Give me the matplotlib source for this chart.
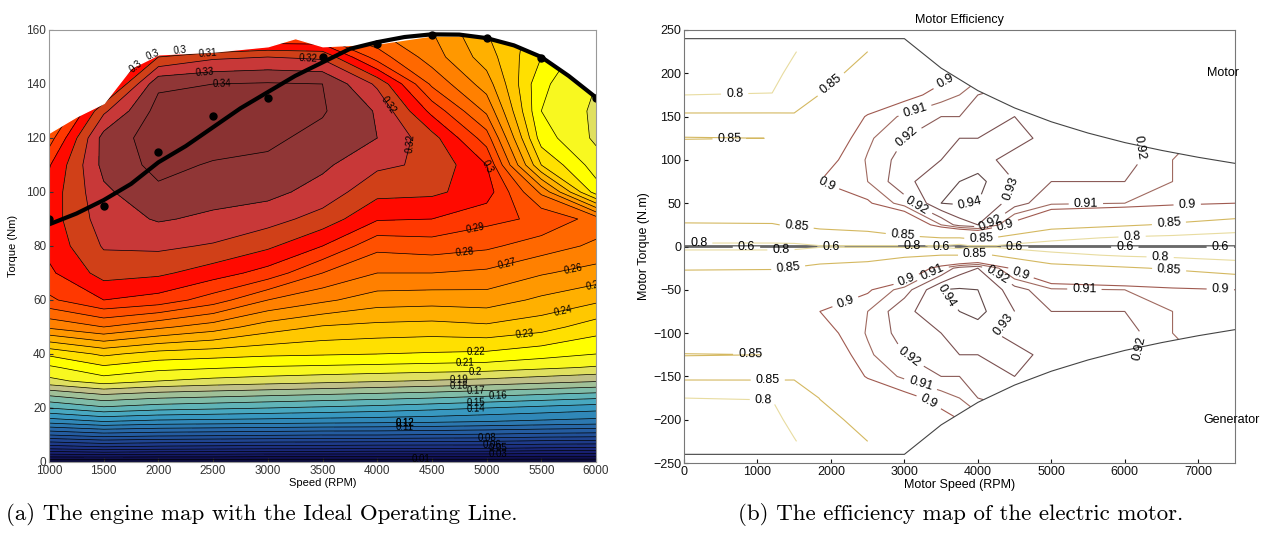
import numpy as np
import matplotlib
matplotlib.use("Agg")
import matplotlib.pyplot as plt
from matplotlib.colors import ListedColormap, BoundaryNorm
from matplotlib.patches import Polygon

plt.rcParams['font.family'] = ['Liberation Sans', 'DejaVu Sans']

# ---------------- engine map data ----------------
engine_speed = [1000, 1500, 2000, 2500, 3000, 3500, 4000, 4500, 5000, 5500, 6000]
engine_torque = [0, 2, 5, 10, 15, 20, 25, 30, 35, 40, 50, 60, 70, 80, 90, 100,
                 110, 120, 130, 140, 150, 160]
# one row per torque value, one column per speed
engine_eff = [
    [0, 0, 0, 0, 0, 0, 0, 0, 0, 0, 0],
    [.021, .022, .021, .021, .020, .020, .020, .020, .020, .019, .019],
    [.051, .055, .053, .052, .051, .051, .050, .050, .050, .048, .047],
    [.090, .095, .093, .092, .091, .090, .090, .089, .088, .086, .085],
    [.124, .130, .127, .126, .125, .124, .123, .122, .120, .118, .116],
    [.150, .158, .154, .152, .150, .148, .146, .143, .140, .137, .134],
    [.172, .180, .176, .174, .172, .170, .168, .166, .163, .160, .157],
    [.197, .205, .200, .197, .195, .193, .191, .189, .187, .184, .181],
    [.208, .218, .213, .211, .209, .208, .207, .206, .205, .202, .199],
    [.222, .232, .226, .224, .222, .221, .220, .219, .218, .214, .210],
    [.262, .270, .262, .255, .245, .239, .237, .236, .238, .234, .225],
    [.288, .300, .296, .285, .270, .262, .255, .254, .255, .248, .242],
    [.298, .314, .312, .305, .296, .280, .270, .270, .268, .261, .256],
    [.303, .321, .322, .319, .312, .300, .283, .285, .282, .275, .268],
    [.305, .325, .331, .328, .324, .316, .301, .300, .293, .288, .276],
    [.304, .328, .338, .334, .333, .326, .313, .312, .305, .268, .215],
    [.299, .333, .343, .339, .338, .332, .322, .318, .300, .230, .205],
    [.285, .334, .345, .345, .342, .337, .330, .314, .285, .215, .198],
    [.270, .318, .344, .346, .347, .341, .329, .297, .268, .210, .198],
    [.260, .290, .338, .340, .341, .340, .318, .278, .255, .212, .200],
    [.250, .260, .310, .318, .320, .318, .285, .265, .245, .220, .200],
    [.240, .230, .250, .270, .280, .280, .270, .260, .240, .225, .200],
]

# full-load (maximum torque) curve
wot_speed = [1000, 1250, 1500, 1750, 2000, 2500, 3000, 3250, 3500, 4000, 4500, 5000, 5500, 6000]
wot_torque = [122, 128, 133, 146, 151, 152, 154, 157, 154, 155, 158, 158, 151, 135]

# ideal operating line
iol_speed = [1000, 1250, 1500, 1750, 2000, 2250, 2500, 2750, 3000, 3250, 3500, 3750,
             4000, 4250, 4500, 4750, 5000, 5250, 5500, 5750, 6000]
iol_torque = [88, 92, 97, 103, 111, 117, 124, 131, 137, 143, 148, 153,
              155.5, 157.4, 158.4, 158.3, 157, 154.3, 150, 143, 135]
pt_speed = [1000, 1500, 2000, 2500, 3000, 3500, 4000, 4500, 5000, 5500, 6000]
pt_torque = [90, 95, 115, 128, 135, 150, 155, 158, 157, 149.5, 135]

engine_levels = np.round(np.arange(0, 0.355, 0.01), 2)
engine_colors = ['#0c0c3c', '#101050', '#141864', '#182070', '#1a2878', '#1c3080',
                 '#1e3a88', '#204590', '#225098', '#245ca0', '#2868a8', '#2c78b0',
                 '#3088b8', '#3898c0', '#48a8c0', '#60b4b8', '#80bca8', '#a0c098',
                 '#c0c088', '#e0e060', '#f8f820', '#ffff00', '#ffe000', '#ffc800',
                 '#ffb000', '#ff9800', '#ff8000', '#ff6800', '#ff5000', '#ff3800',
                 '#ff0a00', '#d04018', '#c83838', '#903636', '#8a3232']

engine_label_pos = [(2430, 142), (2580, 138), (3370, 149), (4130, 133), (4400, 117),
                    (4960, 109), (4900, 86), (4800, 77), (5200, 71), (5800, 70),
                    (5990, 66), (5700, 56), (5350, 46), (4900, 41), (4800, 37),
                    (4900, 33), (4750, 29.5), (4750, 28), (4900, 26.5), (5100, 24.5),
                    (4900, 22), (4900, 20), (4250, 15), (4250, 14), (4250, 13),
                    (4400, 1), (5000, 9.5), (5050, 7), (5100, 5), (5100, 3),
                    (1800, 146), (1950, 151), (2200, 152), (2450, 152.5)]

# ---------------- motor map data ----------------
motor_speed = [0, 1200, 1500, 1850, 2500, 3000, 3500, 3750, 4000, 4500, 5000, 6000, 6650, 7500]
motor_torque_up = [0, 1, 10, 25, 50, 75, 100, 125, 150, 175, 200, 225]
# one row per torque value (motor side), one column per speed
motor_eff_up = [
    [0, 0, 0, 0, 0, 0, 0, 0, 0, 0, 0, 0, 0, 0],
    [.79, .79, .79, .80, .805, .80, .80, .79, .81, .79, .785, .78, .78, .775],
    [.82, .82, .825, .835, .84, .845, .85, .85, .86, .835, .81, .795, .79, .78],
    [.849, .849, .852, .857, .86, .875, .91, .925, .93, .895, .87, .855, .845, .83],
    [.86, .865, .87, .885, .898, .915, .94, .941, .94, .925, .912, .91, .905, .90],
    [.865, .87, .878, .90, .91, .928, .935, .94, .943, .93, .92, .92, .91, .905],
    [.86, .865, .875, .893, .911, .925, .93, .935, .935, .925, .93, .925, .91, .905],
    [.8495, .85005, .87, .885, .908, .92, .93, .93, .93, .935, .925, .922, .915, .90],
    [.86, .86, .855, .87, .902, .912, .92, .92, .925, .93, .92, .92, .91, .90],
    [.80, .801, .825, .851, .88, .895, .905, .91, .92, .925, .915, .915, .905, .895],
    [.79, .79, .81, .835, .865, .88, .895, .90, .905, .915, .91, .91, .90, .89],
    [.78, .78, .798, .82, .85, .865, .88, .89, .89, .90, .90, .90, .895, .885],
]

env_speed = [0, 3000, 3500, 4000, 4500, 5000, 5500, 6000, 6500, 7000, 7500]
env_torque = [240, 240, 206, 180, 160, 144, 131, 120, 111, 103, 96]

motor_levels = [0.6, 0.8, 0.85, 0.9, 0.91, 0.92, 0.93, 0.94]
motor_colors = ['#404040', '#e8dca0', '#d4b860', '#a05a50', '#a06a60', '#8c5c58',
                '#7a5050', '#604848']

motor_label_pos = [(690, 175), (1990, 188), (620, 125), (3500, 200), (3160, 152),
                   (3050, 123), (3880, 63), (4400, 69), (3160, 46), (1880, 58),
                   (2990, 23), (4160, 29), (4380, 22), (5470, 50), (6850, 47),
                   (6600, 27), (5970, 112), (1530, 20), (200, 4), (3100, 4),
                   (6100, 9), (4050, 5), (850, 0), (2000, 0), (3500, 0), (4500, 0),
                   (6000, 0), (7300, 0), (1320, -5), (1420, -28), (3960, -7),
                   (2980, -30), (2140, -50), (3400, -33), (3540, -60), (4240, -36),
                   (4570, -35), (5450, -50), (6600, -31), (6480, -15), (7300, -50),
                   (4400, -95), (3060, -128), (3200, -165), (3230, -196),
                   (900, -125), (1140, -158), (1080, -180), (5970, -116)]

fig = plt.figure(figsize=(12.74, 5.43), dpi=100)

# ---------------- left: engine map ----------------
ax1 = fig.add_axes([49 / 1274, 81 / 543, 547 / 1274, 432 / 543])
S, T = np.meshgrid(engine_speed, engine_torque)
E = np.array(engine_eff)
cmap = ListedColormap(engine_colors)
norm = BoundaryNorm(engine_levels, cmap.N)
ax1.contourf(S, T, E, levels=engine_levels, cmap=cmap, norm=norm)
cs1 = ax1.contour(S, T, E, levels=engine_levels[1:], colors='k', linewidths=0.5)
ax1.clabel(cs1, fmt='%g', inline=False, fontsize=7, colors='k', manual=engine_label_pos)
ax1.fill_between(wot_speed, wot_torque, 170, color='white', zorder=3)
ax1.plot(iol_speed, iol_torque, color='k', lw=3, zorder=4)
ax1.plot(pt_speed, pt_torque, 'o', color='k', ms=5, zorder=5)
ax1.set_xlim(1000, 6000)
ax1.set_ylim(0, 160)
ax1.set_xticks(range(1000, 6001, 500))
ax1.set_yticks(range(0, 161, 20))
ax1.tick_params(direction='in', length=3, labelsize=8.5, colors='#333333', pad=2)
for sp in ax1.spines.values():
    sp.set_color('#999999')
    sp.set_zorder(6)
ax1.set_xlabel('Speed (RPM)', fontsize=8, labelpad=1)
ax1.set_ylabel('Torque (Nm)', fontsize=8, labelpad=6)

# ---------------- right: motor map ----------------
ax2 = fig.add_axes([684 / 1274, 80 / 543, 551 / 1274, 433 / 543])
Eu = np.array(motor_eff_up)
motor_torque = [-t for t in motor_torque_up[:0:-1]] + motor_torque_up
Em = np.vstack([Eu[:0:-1], Eu])
env_poly = Polygon(list(zip(env_speed, env_torque)) +
                   list(zip(env_speed[::-1], [-t for t in env_torque[::-1]])),
                   closed=True, facecolor='none', edgecolor='none', transform=ax2.transData)
ax2.add_patch(env_poly)
cs2 = ax2.contour(motor_speed, motor_torque, Em, levels=motor_levels,
                  colors=motor_colors, linewidths=0.8)
ax2.clabel(cs2, fmt='%g', inline=True, fontsize=9, colors='k', manual=motor_label_pos)
cs2.set_clip_path(env_poly)
ax2.plot(env_speed, env_torque, color='#444444', lw=0.8)
ax2.plot(env_speed, [-t for t in env_torque], color='#444444', lw=0.8)
ax2.set_xlim(0, 7500)
ax2.set_ylim(-250, 250)
ax2.set_xticks(range(0, 7001, 1000))
ax2.set_yticks(range(-250, 251, 50))
ax2.tick_params(direction='in', length=3, labelsize=9, colors='#111111', pad=2)
for sp in ax2.spines.values():
    sp.set_color('#777777')
ax2.set_title('Motor Efficiency', fontsize=9, pad=5)
ax2.set_xlabel('Motor Speed (RPM)', fontsize=9, labelpad=1)
ax2.set_ylabel('Motor Torque (N.m)', fontsize=9, labelpad=2)
ax2.text(7330, 200, 'Motor', fontsize=9, ha='center', va='center', clip_on=False)
ax2.text(7460, -200, 'Generator', fontsize=9, ha='center', va='center', clip_on=False)

# captions
fig.text(262 / 1274, 1 - 515 / 543, '(a) The engine map with the Ideal Operating Line.',
         family='cmr10', fontsize=16.5, ha='center', va='center')
fig.text(961 / 1274, 1 - 515 / 543, '(b) The efficiency map of the electric motor.',
         family='cmr10', fontsize=16.5, ha='center', va='center')

fig.savefig('out.png', dpi=100)
